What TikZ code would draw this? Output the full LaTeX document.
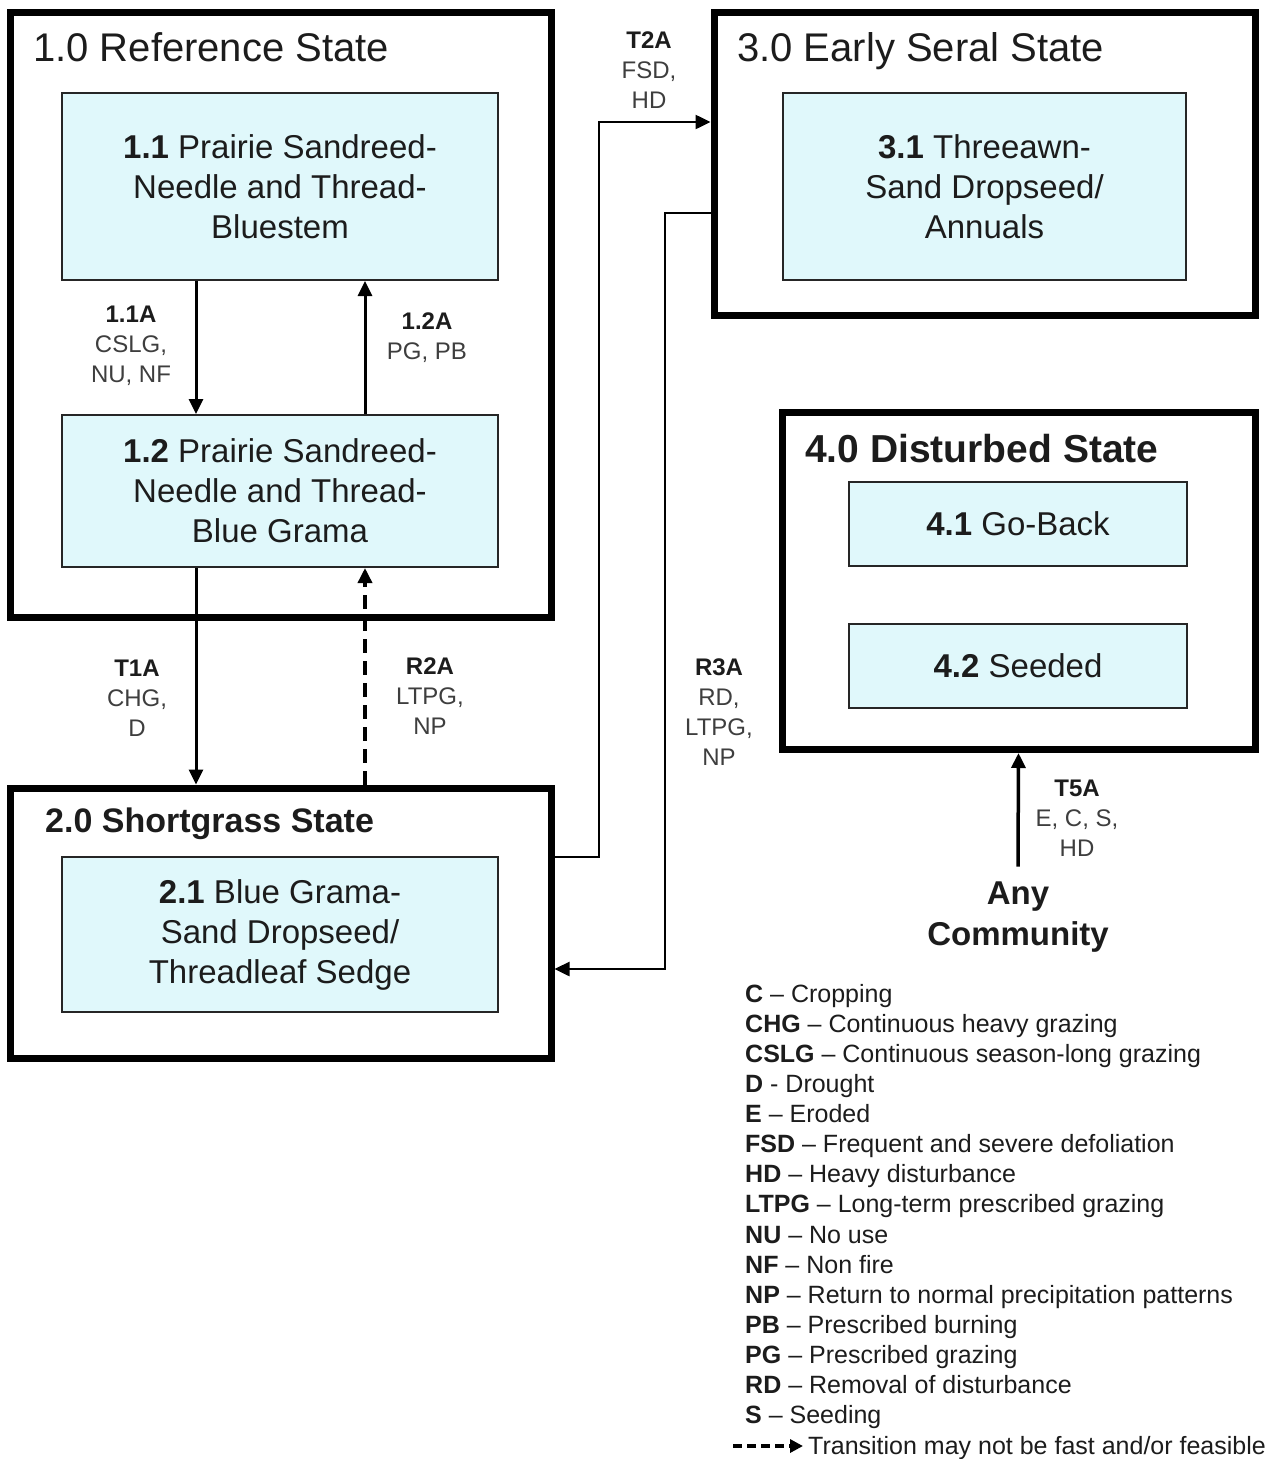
\documentclass[tikz,border=0pt]{standalone}
\usepackage{fontspec}
\setmainfont{Liberation Sans}
\usetikzlibrary{arrows.meta}
\definecolor{boxfill}{RGB}{224,248,251}
\definecolor{ink}{RGB}{28,28,28}
\definecolor{lab}{RGB}{62,62,62}
\begin{document}
\begin{tikzpicture}[x=1pt,y=-1pt,
  statebox/.style={draw=black, line width=7pt, rectangle, inner sep=0pt, fill=white},
  combox/.style={draw=black!85, line width=2pt, fill=boxfill, rectangle, inner sep=0pt,
                 align=center, font=\fontsize{33}{40}\selectfont, text=ink},
  arr/.style={line width=3pt, -{Triangle[length=15pt,width=14pt]}},
  lbl/.style={align=center, font=\fontsize{24}{30}\selectfont, text=lab, inner sep=0pt},
  ttl/.style={anchor=base west, inner sep=0pt, text=ink},
  leg/.style={anchor=base west, inner sep=0pt, font=\fontsize{25}{30}\selectfont, text=ink}
]
\fill[white] (0,0) rectangle (1279,1459);
\useasboundingbox (0,0) rectangle (1279,1459);

% state boxes
\node[statebox, minimum width=541pt, minimum height=605pt] (s1) at (280.5,314.5) {};
\node[statebox, minimum width=541pt, minimum height=270pt] (s2) at (280.5,923) {};
\node[statebox, minimum width=541pt, minimum height=303pt] (s3) at (984.5,163.5) {};
\node[statebox, minimum width=473pt, minimum height=337pt] (s4) at (1018.5,581) {};

% titles
\node[ttl, font=\fontsize{40}{48}\selectfont] (t1) at (33,61) {1.0 Reference State};
\node[ttl, font=\bfseries\fontsize{34}{40}\selectfont] (t2) at (45,832) {2.0 Shortgrass State};
\node[ttl, font=\fontsize{40}{48}\selectfont] (t3) at (737,61) {3.0 Early Seral State};
\node[ttl, font=\bfseries\fontsize{39}{46}\selectfont] (t4) at (805,462) {4.0 Disturbed State};

% community boxes
\node[combox, minimum width=436pt, minimum height=187pt] (b11) at (280,186.5)
  {\textbf{1.1} Prairie Sandreed-\\Needle and Thread-\\Bluestem};
\node[combox, minimum width=436pt, minimum height=152pt] (b12) at (280,491)
  {\textbf{1.2} Prairie Sandreed-\\Needle and Thread-\\Blue Grama};
\node[combox, minimum width=436pt, minimum height=155pt] (b21) at (280,934.5)
  {\textbf{2.1} Blue Grama-\\Sand Dropseed/\\Threadleaf Sedge};
\node[combox, minimum width=403pt, minimum height=187pt] (b31) at (984.5,186.5)
  {\textbf{3.1} Threeawn-\\Sand Dropseed/\\Annuals};
\node[combox, minimum width=338pt, minimum height=84pt] (b41) at (1018,524)
  {\textbf{4.1} Go-Back};
\node[combox, minimum width=338pt, minimum height=84pt] (b42) at (1018,666)
  {\textbf{4.2} Seeded};

% helper coordinates
\coordinate (xa) at (196,0);
\coordinate (xb) at (365,0);
\coordinate (yt2) at (0,857);
\coordinate (yt2b) at (0,122);
\coordinate (yr3) at (0,213);
\coordinate (yr3b) at (0,969);

% connectors
\draw[arr] (b11.south -| xa) -- (b12.north -| xa);
\draw[arr] (b12.north -| xb) -- (b11.south -| xb);
\draw[arr] (b12.south -| xa) -- (s2.north -| xa);
\draw[arr, line width=3.5pt, dash pattern=on 14pt off 8pt] (s2.north -| xb) -- (b12.south -| xb);
\draw[arr, line width=2.5pt] (s2.east |- yt2) -| (599,122) -- (s3.west |- yt2b);
\draw[arr, line width=2.5pt] (s3.west |- yr3) -| (665,969) -- (s2.east |- yr3b);

% any community
\node[align=center, font=\bfseries\fontsize{33}{41}\selectfont, text=ink, inner xsep=0pt, inner ysep=15pt] (any) at (1018,917) {Any\\Community};
\draw[arr, line width=3.5pt] (any.north) -- (s4.south);

% transition labels
\node[lbl] (l11a) at (131,346) {\textbf{\color{ink}1.1A}\\CSLG,\\NU, NF};
\node[lbl] (l12a) at (427,338) {\textbf{\color{ink}1.2A}\\PG, PB};
\node[lbl] (lt1a) at (137,698) {\textbf{\color{ink}T1A}\\CHG,\\D};
\node[lbl] (lr2a) at (430,696) {\textbf{\color{ink}R2A}\\LTPG,\\NP};
\node[lbl] (lr3a) at (719,712) {\textbf{\color{ink}R3A}\\RD,\\LTPG,\\NP};
\node[lbl] (lt2a) at (649,70) {\textbf{\color{ink}T2A}\\FSD,\\HD};
\node[lbl] (lt5a) at (1077,818) {\textbf{\color{ink}T5A}\\E, C, S,\\HD};

% legend
\foreach \ab/\ds [count=\i from 0] in {
  C/– Cropping,
  CHG/– Continuous heavy grazing,
  CSLG/– Continuous season-long grazing,
  D/- Drought,
  E/– Eroded,
  FSD/– Frequent and severe defoliation,
  HD/– Heavy disturbance,
  LTPG/– Long-term prescribed grazing,
  NU/– No use,
  NF/– Non fire,
  NP/– Return to normal precipitation patterns,
  PB/– Prescribed burning,
  PG/– Prescribed grazing,
  RD/– Removal of disturbance,
  S/– Seeding}
{
  \node[leg] (leg\i) at (745,{1002+30.14*\i}) {\textbf{\ab} \ds};
}
\coordinate (lgs) at (733,1446);
\node[leg] (lgt) at (808,1454) {Transition may not be fast and/or feasible};
\draw[line width=3.5pt, dash pattern=on 9pt off 5pt, shorten >=5pt,
      -{Triangle[length=13pt,width=13pt]}] (lgs) -- (lgs -| lgt.west);
\end{tikzpicture}
\end{document}
